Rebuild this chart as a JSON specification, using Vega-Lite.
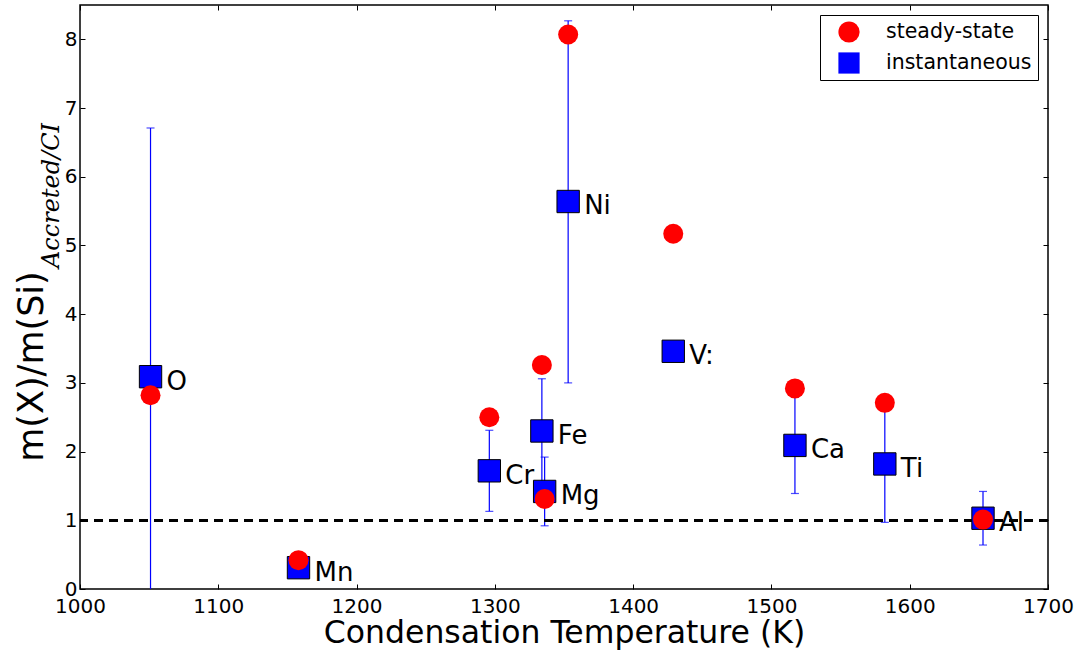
{
  "$schema": "https://vega.github.io/schema/vega-lite/v6.json",
  "width": 968,
  "height": 584,
  "autosize": {"type": "none"},
  "padding": {"left": 80, "top": 5, "right": 35, "bottom": 64},
  "background": "white",
  "config": {
    "view": {"stroke": "black", "strokeWidth": 1.5},
    "font": "DejaVu Sans",
    "axis": {"grid": false, "domain": false, "tickColor": "black", "labelColor": "black", "titleColor": "black", "titleFontWeight": "normal", "labelFont": "DejaVu Sans", "titleFont": "DejaVu Sans", "labelFlush": false, "format": "d"},
    "legend": {"orient": "top-right", "offset": 10, "labelFontSize": 20.5, "labelFont": "DejaVu Sans", "labelColor": "black", "symbolSize": 450, "strokeColor": "black", "fillColor": "white", "padding": 6, "symbolOffset": 12, "labelOffset": 26, "rowPadding": 9, "symbolStrokeWidth": 0, "cornerRadius": 0, "symbolOpacity": 1}
  },
  "datasets": {
    "pts": [
      {"el": "O", "T": 1051, "v": 3.09, "series": "instantaneous"},
      {"el": "Mn", "T": 1158, "v": 0.31, "series": "instantaneous"},
      {"el": "Cr", "T": 1296, "v": 1.72, "series": "instantaneous"},
      {"el": "Fe", "T": 1334, "v": 2.30, "series": "instantaneous"},
      {"el": "Mg", "T": 1336, "v": 1.42, "series": "instantaneous"},
      {"el": "Ni", "T": 1353, "v": 5.64, "series": "instantaneous"},
      {"el": "V:", "T": 1429, "v": 3.46, "series": "instantaneous"},
      {"el": "Ca", "T": 1517, "v": 2.09, "series": "instantaneous"},
      {"el": "Ti", "T": 1582, "v": 1.82, "series": "instantaneous"},
      {"el": "Al", "T": 1653, "v": 1.03, "series": "instantaneous"},
      {"el": "O", "T": 1051, "v": 2.82, "series": "steady-state"},
      {"el": "Mn", "T": 1158, "v": 0.42, "series": "steady-state"},
      {"el": "Cr", "T": 1296, "v": 2.50, "series": "steady-state"},
      {"el": "Fe", "T": 1334, "v": 3.26, "series": "steady-state"},
      {"el": "Mg", "T": 1336, "v": 1.31, "series": "steady-state"},
      {"el": "Ni", "T": 1353, "v": 8.07, "series": "steady-state"},
      {"el": "V:", "T": 1429, "v": 5.17, "series": "steady-state"},
      {"el": "Ca", "T": 1517, "v": 2.92, "series": "steady-state"},
      {"el": "Ti", "T": 1582, "v": 2.71, "series": "steady-state"},
      {"el": "Al", "T": 1653, "v": 1.01, "series": "steady-state"}
    ],
    "err": [
      {"el": "O", "T": 1051, "lo": -0.53, "hi": 6.71},
      {"el": "Cr", "T": 1296, "lo": 1.13, "hi": 2.31},
      {"el": "Fe", "T": 1334, "lo": 1.54, "hi": 3.06},
      {"el": "Mg", "T": 1336, "lo": 0.92, "hi": 1.92},
      {"el": "Ni", "T": 1353, "lo": 3.00, "hi": 8.27},
      {"el": "Ca", "T": 1517, "lo": 1.39, "hi": 2.79},
      {"el": "Ti", "T": 1582, "lo": 0.97, "hi": 2.67},
      {"el": "Al", "T": 1653, "lo": 0.64, "hi": 1.42}
    ]
  },
  "layer": [
    {
      "data": {"name": "err"},
      "mark": {"type": "rule", "color": "#0000ff", "strokeWidth": 1.2, "clip": true},
      "encoding": {
        "x": {"field": "T", "type": "quantitative", "scale": {"domain": [1000, 1700], "nice": false, "zero": false},
          "axis": {"orient": "bottom", "values": [1000, 1100, 1200, 1300, 1400, 1500, 1600, 1700], "tickSize": -5, "labelPadding": 12, "labelFontSize": 20, "title": "Condensation Temperature (K)", "titleFontSize": 31.5, "titleY": 53, "titleBaseline": "alphabetic"}},
        "y": {"field": "lo", "type": "quantitative", "scale": {"domain": [0, 8.5], "nice": false, "zero": false},
          "axis": {"orient": "left", "values": [0, 1, 2, 3, 4, 5, 6, 7, 8], "tickSize": -5, "labelPadding": 8, "labelFontSize": 20, "title": "m(X)/m(Si)", "titleFontSize": 35, "titleX": -49, "titleY": 361, "titleAngle": 270, "titleAlign": "center", "titleBaseline": "middle"}},
        "y2": {"field": "hi"}
      }
    },
    {
      "data": {"name": "err"},
      "mark": {"type": "tick", "orient": "horizontal", "color": "#0000ff", "size": 8, "thickness": 1.2, "clip": true},
      "encoding": {
        "x": {"field": "T", "type": "quantitative", "scale": {"domain": [1000, 1700], "nice": false, "zero": false}, "axis": null},
        "y": {"field": "lo", "type": "quantitative", "scale": {"domain": [0, 8.5], "nice": false, "zero": false}, "axis": null}
      }
    },
    {
      "data": {"name": "err"},
      "mark": {"type": "tick", "orient": "horizontal", "color": "#0000ff", "size": 8, "thickness": 1.2, "clip": true},
      "encoding": {
        "x": {"field": "T", "type": "quantitative", "scale": {"domain": [1000, 1700], "nice": false, "zero": false}, "axis": null},
        "y": {"field": "hi", "type": "quantitative", "scale": {"domain": [0, 8.5], "nice": false, "zero": false}, "axis": null}
      }
    },
    {
      "data": {"name": "pts"},
      "mark": {"type": "rule", "color": "black", "strokeWidth": 2.2, "strokeDash": [9, 6]},
      "encoding": {
        "y": {"datum": 1, "type": "quantitative", "scale": {"domain": [0, 8.5], "nice": false, "zero": false},
          "axis": {"orient": "left", "labels": false, "ticks": false, "domain": false, "title": "Accreted/CI", "titleFont": "DejaVu Serif", "titleFontStyle": "italic", "titleFontSize": 24, "titleX": -29, "titleY": 190, "titleAngle": 270, "titleAlign": "center", "titleBaseline": "middle"}}
      }
    },
    {
      "data": {"name": "pts"},
      "transform": [{"filter": "datum.series === 'instantaneous'"}],
      "mark": {"type": "point", "filled": true, "stroke": "black", "strokeWidth": 1, "opacity": 1, "size": 500},
      "encoding": {
        "x": {"field": "T", "type": "quantitative", "scale": {"domain": [1000, 1700], "nice": false, "zero": false},
          "axis": {"orient": "top", "values": [1000, 1100, 1200, 1300, 1400, 1500, 1600, 1700], "labels": false, "tickSize": -5, "title": null}},
        "y": {"field": "v", "type": "quantitative", "scale": {"domain": [0, 8.5], "nice": false, "zero": false},
          "axis": {"orient": "right", "values": [0, 1, 2, 3, 4, 5, 6, 7, 8], "labels": false, "tickSize": -5, "title": null}},
        "shape": {"field": "series", "type": "nominal", "scale": {"domain": ["steady-state", "instantaneous"], "range": ["circle", "square"]}, "legend": {"title": null}},
        "color": {"field": "series", "type": "nominal", "scale": {"domain": ["steady-state", "instantaneous"], "range": ["#ff0000", "#0000ff"]}, "legend": {"title": null}}
      }
    },
    {
      "data": {"name": "pts"},
      "transform": [{"filter": "datum.series === 'steady-state'"}],
      "mark": {"type": "point", "filled": true, "strokeWidth": 0, "opacity": 1, "size": 400},
      "encoding": {
        "x": {"field": "T", "type": "quantitative", "scale": {"domain": [1000, 1700], "nice": false, "zero": false}, "axis": null},
        "y": {"field": "v", "type": "quantitative", "scale": {"domain": [0, 8.5], "nice": false, "zero": false}, "axis": null},
        "shape": {"field": "series", "type": "nominal", "scale": {"domain": ["steady-state", "instantaneous"], "range": ["circle", "square"]}, "legend": {"title": null}},
        "color": {"field": "series", "type": "nominal", "scale": {"domain": ["steady-state", "instantaneous"], "range": ["#ff0000", "#0000ff"]}, "legend": {"title": null}}
      }
    },
    {
      "data": {"name": "pts"},
      "transform": [{"filter": "datum.series === 'instantaneous'"}],
      "mark": {"type": "text", "align": "left", "baseline": "alphabetic", "dx": 16, "dy": 13, "fontSize": 26, "font": "DejaVu Sans", "color": "black"},
      "encoding": {
        "x": {"field": "T", "type": "quantitative", "scale": {"domain": [1000, 1700], "nice": false, "zero": false}, "axis": null},
        "y": {"field": "v", "type": "quantitative", "scale": {"domain": [0, 8.5], "nice": false, "zero": false}, "axis": null},
        "text": {"field": "el"}
      }
    }
  ],
  "resolve": {"axis": {"x": "independent", "y": "independent"}}
}
